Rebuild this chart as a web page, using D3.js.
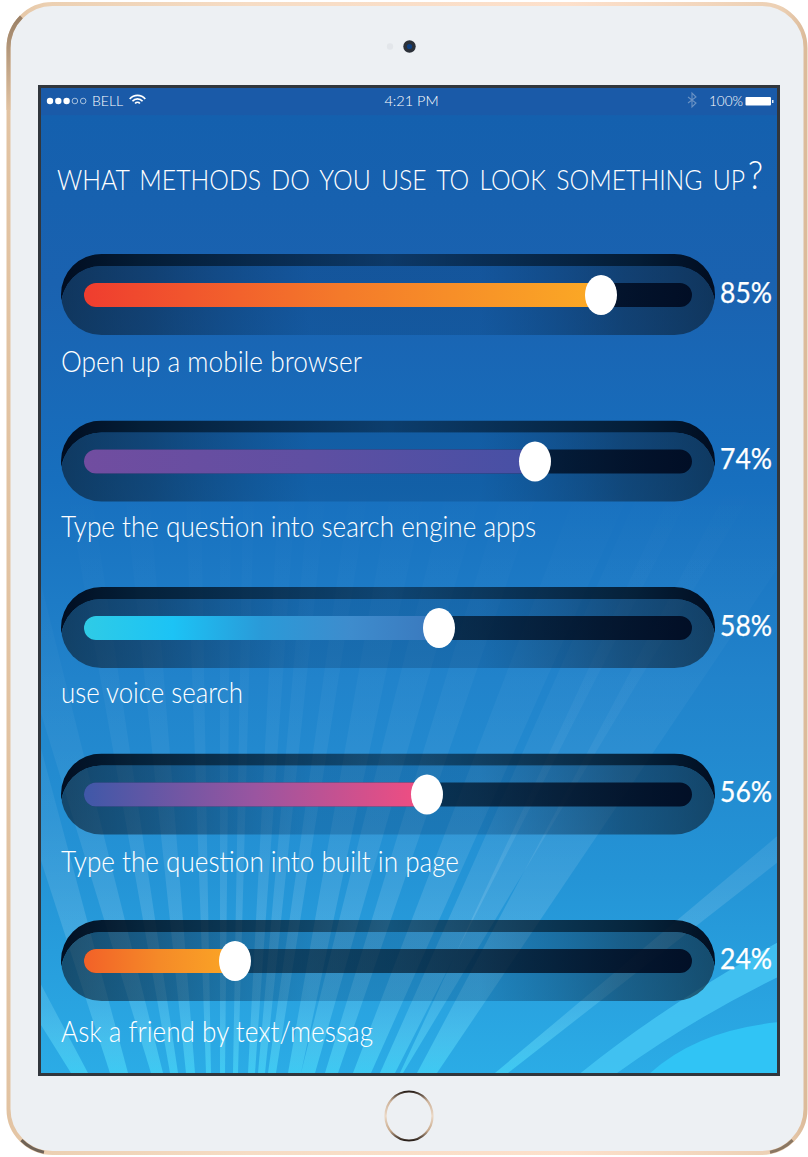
<!DOCTYPE html>
<html>
<head>
<meta charset="utf-8">
<style>
  html, body { margin: 0; padding: 0; background: #fff; }
  svg { display: block; }
  text { font-family: Lato, "Open Sans", sans-serif; fill: #fff; }
</style>
<script src="https://cdn.jsdelivr.net/npm/d3@7/dist/d3.min.js"></script>
</head>
<body>
<script>
// Survey results
const titleText = "WHAT METHODS DO YOU USE TO LOOK SOMETHING UP";
const categories = [
  "Open up a mobile browser",
  "Type the question into search engine apps",
  "use voice search",
  "Type the question into built in page",
  "Ask a friend by text/messag"
];
const values = [85, 74, 58, 56, 24];

// Colour ramp of each filled bar
const fillRamps = [
  ["#ef3d2f", "#f47a2a", "#fbaa25"],
  ["#714da0", "#5f4fa2", "#4650a5"],
  ["#2fcbe6", "#1cc3f5", "#2a9ad8", "#3e8ccd", "#3a78bd"],
  ["#3f58a8", "#9a55a0", "#f44d80"],
  ["#f26128", "#f58a28", "#fba725"]
];

// Text widths and baselines for the row captions
const captionWidths = [301, 475, 182, 398, 312];
const captionOffsets = [77, 76, 75, 78, 81];

// Background sunburst: foot span on the lower screen edge, and lean of each edge in degrees
const rayFootL = [71, 110, 151, 170, 186, 206, 220, 233, 248, 258, 268, 288, 301, 325, 353, 380, 400, 417, 495];
const rayFootR = [88, 128, 163, 178, 195, 211, 225, 238, 255, 265, 276, 301, 315, 338, 371, 395, 403, 437, 508];
const rayLeanL = [-32, -18, -17, -10, -6, -2, 0, 1, 3, 5, 8, 10, 14, 17, 21, 24, 25, 28, 50];
const rayLeanR = [-28, -15, -14, -8.5, -4.5, -1, 0.6, 1.6, 4, 6, 9, 12, 16, 19, 24, 27, 31, 34, 52];

const W = 808, H = 1157;
const screen = { x: 38, y: 85, w: 742, h: 991 };

const svg = d3.select("body").append("svg").attr("width", W).attr("height", H);
const defs = svg.append("defs");

const x = d3.scaleLinear().domain([0, 100]).range([91, 691]);
const y = d3.scalePoint().domain(categories).range([294.5, 960.5]);

function linearGradient(id, coords, stops, userSpace) {
  const g = defs.append("linearGradient").attr("id", id).attr("x1", coords[0]).attr("y1", coords[1]).attr("x2", coords[2]).attr("y2", coords[3]);
  if (userSpace) g.attr("gradientUnits", "userSpaceOnUse");
  stops.forEach(s => g.append("stop").attr("offset", s[0]).attr("stop-color", s[1]).attr("stop-opacity", s[2] === undefined ? 1 : s[2]));
  return `url(#${id})`;
}

// Rounded rectangle as a path, so two of them can be combined with even-odd fill
function pill(x0, y0, w, h) {
  const r = h / 2, p = d3.path();
  p.moveTo(x0 + r, y0);
  p.lineTo(x0 + w - r, y0);
  p.arc(x0 + w - r, y0 + r, r, -Math.PI / 2, Math.PI / 2);
  p.lineTo(x0 + r, y0 + h);
  p.arc(x0 + r, y0 + r, r, Math.PI / 2, 3 * Math.PI / 2);
  p.closePath();
  return p.toString();
}

/* ---------- tablet body ---------- */
const rim = linearGradient("rim", [0, 0, 1, 0], [[0, "#e2c3a2"], [0.05, "#ecd0b2"], [0.3, "#f6dcc4"], [0.7, "#fde0cb"], [0.97, "#ecd0b4"], [1, "#dcbb9a"]]);
svg.append("rect").attr("x", 8.5).attr("y", 4).attr("width", 797).attr("height", 1149).attr("rx", 44)
  .attr("fill", "#edf0f3").attr("stroke", rim).attr("stroke-width", 4);
const cornerShade = linearGradient("cornerShade", [0, 16, 0, 110], [[0, "#9a8066"], [1, "#e2c3a2"]], true);
svg.append("path").attr("d", "M8.5 110 L8.5 48 A44 44 0 0 1 21.4 16.9").attr("fill", "none").attr("stroke", cornerShade).attr("stroke-width", 4);
svg.append("path").attr("d", "M21.4 1140.1 A44 44 0 0 0 44 1152.2").attr("fill", "none").attr("stroke", "#6f6357").attr("stroke-width", 3);
svg.append("path").attr("d", "M792.6 1140.1 A44 44 0 0 1 770 1152.2").attr("fill", "none").attr("stroke", "#8a7763").attr("stroke-width", 3);

// Camera and sensor
svg.append("circle").attr("cx", 390).attr("cy", 46.5).attr("r", 3.2).attr("fill", "#e3e6ea");
svg.append("circle").attr("cx", 409.5).attr("cy", 46.5).attr("r", 6.2).attr("fill", "#2b3038");
svg.append("circle").attr("cx", 409.5).attr("cy", 46.5).attr("r", 2.6).attr("fill", "#0f3f80");

// Home button
const ring = linearGradient("ring", [0, 0, 0, 1], [[0, "#2b211b"], [0.2, "#cdb299"], [0.5, "#ecd9c6"], [0.8, "#c7a98c"], [1, "#2b211b"]]);
svg.append("ellipse").attr("cx", 409).attr("cy", 1116).attr("rx", 23.5).attr("ry", 24.5)
  .attr("fill", "#edf0f3").attr("stroke", ring).attr("stroke-width", 2.2);

/* ---------- screen ---------- */
const bg = linearGradient("screenBg", [0, screen.y, 0, screen.y + screen.h], [
  [0, "#1a5aa8"], [0.03, "#1a5aa8"], [0.031, "#1460ae"], [0.2, "#1a62b0"], [0.4, "#176fbe"],
  [0.6, "#2183cb"], [0.8, "#2494d6"], [0.9, "#28a0de"], [1, "#2bace6"]
], true);
svg.append("rect").attr("x", screen.x + 1.5).attr("y", screen.y + 1.5).attr("width", screen.w - 3).attr("height", screen.h - 3)
  .attr("fill", bg).attr("stroke", "#31363c").attr("stroke-width", 3);

defs.append("clipPath").attr("id", "screenClip").append("rect")
  .attr("x", screen.x + 3).attr("y", screen.y + 3).attr("width", screen.w - 6).attr("height", screen.h - 6);
const rayFade = linearGradient("rayFade", [0, 480, 0, 1076],
  [[0, "#fff", 0], [0.3, "#fff", 0.025], [0.55, "#fff", 0.06], [0.72, "#fff", 0.12], [0.88, "#9cecff", 0.2], [1, "#4fe8ff", 0.5]], true);

const backdrop = svg.append("g").attr("clip-path", "url(#screenClip)");
const floorY = screen.y + screen.h - 3, rayTop = 480;
const rise = floorY - rayTop;
const rayLine = d3.line();
backdrop.selectAll("path.ray").data(rayFootL).join("path").attr("class", "ray")
  .attr("fill", rayFade)
  .attr("d", (foot, i) => {
    const a = Math.tan(rayLeanL[i] * Math.PI / 180), b = Math.tan(rayLeanR[i] * Math.PI / 180);
    return rayLine([[foot, floorY], [foot + a * rise, rayTop], [rayFootR[i] + b * rise, rayTop], [rayFootR[i], floorY]]) + "Z";
  });

// Sweeping bands in the lower right corner
backdrop.append("path").attr("fill", "#44c6f3").attr("opacity", 0.85)
  .attr("d", "M577 1076 Q660 1008 780 941 L780 976 Q690 1020 613 1076 Z");
backdrop.append("path").attr("fill", "#30c4f5")
  .attr("d", "M647 1076 Q695 1030 780 1022 L780 1076 Z");

/* ---------- status bar ---------- */
const status = svg.append("g");
d3.range(5).forEach(i => {
  status.append("circle").attr("cx", 50 + i * 8.3).attr("cy", 101).attr("r", i < 3 ? 3.2 : 2.8)
    .attr("fill", i < 3 ? "#fff" : "none").attr("stroke", i < 3 ? "none" : "#c8d8ea").attr("stroke-width", 0.8);
});
status.append("text").attr("x", 92).attr("y", 106).attr("font-size", 14).attr("font-weight", 300).text("BELL");
const wifi = status.append("g").attr("transform", "translate(137.5,105.5)");
[11, 7.5, 4].forEach(r => wifi.append("path")
  .attr("d", d3.arc()({ innerRadius: r - 1.8, outerRadius: r, startAngle: -Math.PI / 3.6, endAngle: Math.PI / 3.6 }))
  .attr("fill", "#fff"));
status.append("text").attr("x", 411.5).attr("y", 106).attr("text-anchor", "middle").attr("font-size", 14.5).attr("font-weight", 300).text("4:21 PM");
status.append("path").attr("d", "M688 97 L696 103 L692 107 L692 93 L696 97 L688 103").attr("fill", "none").attr("stroke", "#6a92c4").attr("stroke-width", 1.1);
status.append("text").attr("x", 709).attr("y", 106).attr("font-size", 13.5).attr("font-weight", 300).text("100%");
status.append("rect").attr("x", 745.5).attr("y", 97).attr("width", 25.5).attr("height", 8.5).attr("rx", 1).attr("fill", "#fff");
status.append("rect").attr("x", 772).attr("y", 100).attr("width", 1.5).attr("height", 3).attr("fill", "#dfe8f3");

/* ---------- title ---------- */
// Headline and its oversized question mark share one text element, squeezed to the column width
const titleSpan = 704;
const title = svg.append("text").attr("font-size", 28).attr("font-weight", 300).attr("word-spacing", 4);
title.append("tspan").text(titleText);
title.append("tspan").attr("dx", 3).attr("dy", -1).attr("font-size", 40).text("?");
const titleSqueeze = titleSpan / title.node().getComputedTextLength();
title.attr("transform", `translate(57,190) scale(${titleSqueeze},1)`);

/* ---------- slider rows ---------- */
const shellLeft = 61, shellWidth = 654, shellHeight = 81, lipDrop = 12;
const shellTop = -40.5;

const capBand = linearGradient("capBand", [shellLeft, 0, shellLeft + shellWidth, 0],
  [[0, "#000a1c", 0.97], [0.12, "#001020", 0.85], [0.5, "#001020", 0.5], [0.88, "#001020", 0.85], [1, "#000a1c", 0.97]], true);
const shellBody = linearGradient("shellBody", [shellLeft, 0, shellLeft + shellWidth, 0],
  [[0, "#0a1a2a", 0.62], [0.14, "#0a1f36", 0.5], [0.38, "#04305f", 0.25], [0.64, "#04305f", 0.25], [0.86, "#0a1f36", 0.5], [1, "#0a1a2a", 0.62]], true);
const trackFill = linearGradient("trackFill", [x(0), 0, x(100), 0],
  [[0, "#001020", 0.45], [0.5, "#001020", 0.62], [1, "#000a20", 0.92]], true);

fillRamps.forEach((ramp, i) => {
  linearGradient("ramp" + i, [x(0) - 7, 0, x(values[i]), 0], ramp.map((c, k) => [k / (ramp.length - 1), c]), true);
});

// Shell outline clips the lowered body; the lip keeps only the part above the two curves' crossing
defs.append("clipPath").attr("id", "shellClip").append("path").attr("d", pill(shellLeft, shellTop, shellWidth, shellHeight));
defs.append("clipPath").attr("id", "lipClip").append("rect")
  .attr("x", shellLeft).attr("y", shellTop).attr("width", shellWidth).attr("height", shellHeight / 2 + lipDrop / 2);

const rows = svg.selectAll("g.row").data(categories).join("g").attr("class", "row")
  .attr("transform", d => `translate(0,${y(d)})`);

// Crescent along the top of the shell
rows.append("path").attr("fill", capBand).attr("fill-rule", "evenodd").attr("clip-path", "url(#lipClip)")
  .attr("d", pill(shellLeft, shellTop, shellWidth, shellHeight) + pill(shellLeft, shellTop + lipDrop, shellWidth, shellHeight));
rows.append("path").attr("fill", shellBody).attr("clip-path", "url(#shellClip)")
  .attr("d", pill(shellLeft, shellTop + lipDrop, shellWidth, shellHeight));

// Empty track
rows.append("path").attr("fill", trackFill)
  .attr("d", pill(x(0) - 7, -11.5, x(100) + 1 - (x(0) - 7), 24));

// Value bar
rows.append("rect").attr("x", x(0) - 7).attr("y", -11.5)
  .attr("width", (d, i) => x(values[i]) - (x(0) - 7)).attr("height", 24).attr("rx", 12)
  .attr("fill", (d, i) => `url(#ramp${i})`);

// Knob sits on the bar's value
rows.append("ellipse").attr("cx", (d, i) => x(values[i])).attr("cy", 0.5).attr("rx", 16).attr("ry", 20).attr("fill", "#fff");

// Percentage beside the shell
rows.append("text").attr("x", 720).attr("y", 8).attr("font-size", 28).attr("font-weight", 400)
  .attr("stroke", "#fff").attr("stroke-width", 0.25)
  .attr("textLength", 52).attr("lengthAdjust", "spacingAndGlyphs")
  .text((d, i) => values[i] + "%");

// Caption under the shell
rows.append("text").attr("x", 61).attr("y", (d, i) => captionOffsets[i]).attr("font-size", 29).attr("font-weight", 300)
  .attr("textLength", (d, i) => captionWidths[i]).attr("lengthAdjust", "spacingAndGlyphs")
  .text(d => d);
</script>
</body>
</html>
